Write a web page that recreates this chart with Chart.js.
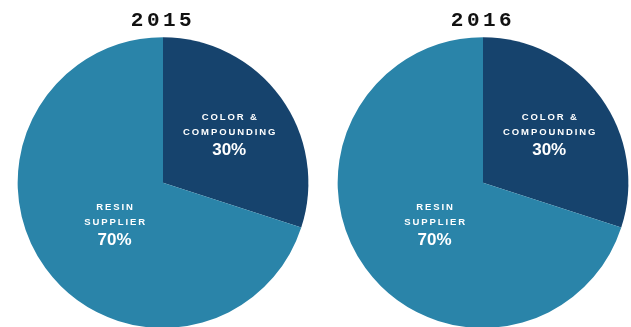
<!DOCTYPE html>
<html lang="en">
  <head>
    <meta charset="UTF-8" />
    <title>Market Share 2015 / 2016</title>
    <script src="https://cdn.jsdelivr.net/npm/chart.js"></script>
    <style>
      body {
        margin: 0;
        padding: 0;
        background: #fff;
        width: 631px;
        height: 327px;
        overflow: hidden;
        position: relative;
      }

      .pie-box {
        position: absolute;
        top: 0;
        width: 326px;
        height: 330px;
      }

      #box-2015 {
        left: 0;
      }

      #box-2016 {
        left: 320px;
      }
    </style>
  </head>
  <body>
    <div class="pie-box" id="box-2015"><canvas id="pie-2015"></canvas></div>
    <div class="pie-box" id="box-2016"><canvas id="pie-2016"></canvas></div>

    <script>
      const years = ["2015", "2016"];
      const segments = ["COLOR &\nCOMPOUNDING", "RESIN\nSUPPLIER"];
      const share2015 = [30, 70];
      const share2016 = [30, 70];

      const segmentColors = ["#16436d", "#2a84a9"];
      // where each label block sits: share of the radius along the slice middle,
      // plus a small nudge in px
      const labelOffset = [0.58, 0.42];
      const labelNudge = [
        [-2, -1],
        [1, 3.5],
      ];

      // spaced-out lettering for the year on top
      const titleSpacing = {
        id: "titleSpacing",
        beforeDraw(chart) {
          chart.ctx.letterSpacing = "3.5px";
        },
        afterDraw(chart) {
          chart.ctx.letterSpacing = "0px";
        },
      };

      // segment name + percentage printed inside each slice
      const sliceLabels = {
        id: "sliceLabels",
        afterDatasetsDraw(chart) {
          const ctx = chart.ctx;
          const meta = chart.getDatasetMeta(0);
          const values = chart.data.datasets[0].data;
          meta.data.forEach((arc, i) => {
            const p = arc.getProps(["startAngle", "endAngle", "x", "y", "outerRadius"], true);
            const mid = (p.startAngle + p.endAngle) / 2;
            const r = p.outerRadius * labelOffset[i];
            const cx = p.x + Math.cos(mid) * r + labelNudge[i][0];
            const cy = p.y + Math.sin(mid) * r + labelNudge[i][1];
            const names = chart.data.labels[i].split("\n");

            ctx.save();
            ctx.fillStyle = "#ffffff";
            ctx.textAlign = "center";
            ctx.textBaseline = "middle";

            ctx.font = "bold 9.5px 'Liberation Sans', Arial, sans-serif";
            ctx.letterSpacing = "1.9px";
            ctx.fillText(names[0], cx + 1, cy - 14.5);
            ctx.fillText(names[1], cx + 1, cy);

            ctx.font = "bold 17px 'Liberation Sans', Arial, sans-serif";
            ctx.letterSpacing = "0px";
            ctx.fillText(values[i] + "%", cx, cy + 18.5);
            ctx.restore();
          });
        },
      };

      function drawPie(canvasId, year, shares) {
        return new Chart(document.getElementById(canvasId), {
          type: "pie",
          data: {
            labels: segments,
            datasets: [
              {
                data: shares,
                backgroundColor: segmentColors,
                borderWidth: 0,
              },
            ],
          },
          options: {
            responsive: true,
            maintainAspectRatio: false,
            animation: false,
            layout: {
              padding: { top: 0, bottom: 2, left: 0, right: 0 },
            },
            plugins: {
              legend: { display: false },
              tooltip: { enabled: false },
              title: {
                display: true,
                text: year,
                color: "#111111",
                font: {
                  family: "'Liberation Mono', 'Courier New', monospace",
                  size: 21,
                  weight: "bold",
                  lineHeight: 1.2,
                },
                padding: { top: 8, bottom: 4.1 },
              },
            },
          },
          plugins: [titleSpacing, sliceLabels],
        });
      }

      drawPie("pie-2015", years[0], share2015);
      drawPie("pie-2016", years[1], share2016);
    </script>
  </body>
</html>
